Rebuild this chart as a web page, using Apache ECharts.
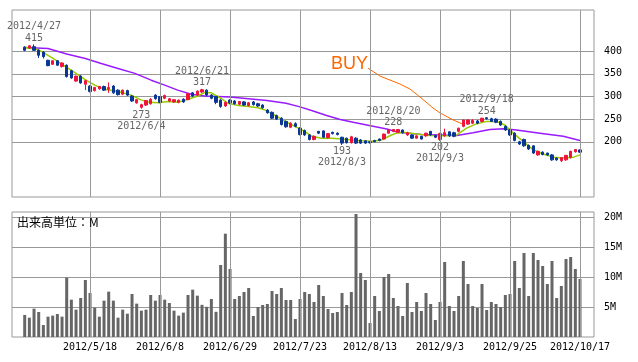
<!DOCTYPE html>
<html><head><meta charset="utf-8">
<script src="https://cdn.jsdelivr.net/npm/echarts@6/dist/echarts.min.js"></script>
<style>html,body{margin:0;padding:0;background:#fff}#c{width:638px;height:362px}</style>
</head><body><div id="c"></div>
<script>
// ---- data ----
const dates = [
'2012/4/25','2012/4/26','2012/4/27',
'2012/5/1','2012/5/2','2012/5/7','2012/5/8','2012/5/9','2012/5/10','2012/5/11','2012/5/14','2012/5/15','2012/5/16','2012/5/17','2012/5/18','2012/5/21','2012/5/22','2012/5/23','2012/5/24','2012/5/25','2012/5/28','2012/5/29','2012/5/30','2012/5/31',
'2012/6/1','2012/6/4','2012/6/5','2012/6/6','2012/6/7','2012/6/8','2012/6/11','2012/6/12','2012/6/13','2012/6/14','2012/6/15','2012/6/18','2012/6/19','2012/6/20','2012/6/21','2012/6/22','2012/6/25','2012/6/26','2012/6/27','2012/6/28','2012/6/29',
'2012/7/2','2012/7/3','2012/7/4','2012/7/5','2012/7/6','2012/7/9','2012/7/10','2012/7/11','2012/7/12','2012/7/13','2012/7/17','2012/7/18','2012/7/19','2012/7/20','2012/7/23','2012/7/24','2012/7/25','2012/7/26','2012/7/27','2012/7/30','2012/7/31',
'2012/8/1','2012/8/2','2012/8/3','2012/8/6','2012/8/7','2012/8/8','2012/8/9','2012/8/10','2012/8/13','2012/8/14','2012/8/15','2012/8/16','2012/8/17','2012/8/20','2012/8/21','2012/8/22','2012/8/23','2012/8/24','2012/8/27','2012/8/28','2012/8/29','2012/8/30','2012/8/31',
'2012/9/3','2012/9/4','2012/9/5','2012/9/6','2012/9/7','2012/9/10','2012/9/11','2012/9/12','2012/9/13','2012/9/14','2012/9/18','2012/9/19','2012/9/20','2012/9/21','2012/9/24','2012/9/25','2012/9/26','2012/9/27','2012/9/28',
'2012/10/1','2012/10/2','2012/10/3','2012/10/4','2012/10/5','2012/10/9','2012/10/10','2012/10/11','2012/10/12','2012/10/15','2012/10/16','2012/10/17'
];
// [open, close, low, high]
const ohlc = [
[409,402,400,411],[407,412,405,413],[410,402,401,415],[402,391,385,404],[398,388,384,400],
[380,368,367,381],[371,379,370,380],[379,369,368,380],[366,374,364,375],[369,344,342,371],
[357,341,339,359],[334,345,332,346],[345,330,328,347],[327,335,314,336],[323,311,309,325],
[313,320,311,321],[317,322,315,323],[322,314,312,324],[316,320,308,331],[323,308,306,325],
[314,304,302,316],[305,314,303,315],[313,303,301,315],[301,290,288,303],[286,293,284,294],
[276,282,273,284],[281,291,279,292],[284,294,282,296],[303,295,293,305],[300,287,285,301],
[296,302,294,304],[290,295,288,296],[288,293,286,294],[287,292,285,293],[294,288,286,296],
[293,306,292,307],[308,301,299,310],[303,312,301,313],[310,315,308,317],[314,303,300,316],
[303,296,294,305],[300,287,283,301],[292,278,275,294],[279,287,277,289],[292,286,283,294],
[290,284,282,292],[283,289,281,290],[288,281,279,290],[280,286,278,288],[288,282,280,290],
[284,279,277,286],[281,275,273,283],[270,264,262,272],[265,252,250,267],[258,250,248,260],
[252,238,236,254],[245,233,231,247],[232,241,230,243],[240,234,232,243],[230,216,214,232],
[225,215,213,227],[215,205,203,217],[205,212,203,214],[223,219,217,224],[224,210,208,225],
[209,218,207,219],[221,218,216,222],[219,216,214,221],[210,197,193,211],[208,198,196,209],
[198,211,196,213],[208,197,195,210],[204,197,195,206],[202,197,195,203],[200,198,196,201],
[203,200,199,204],[206,203,201,207],[206,217,205,218],[219,226,218,227],[223,227,221,228],
[221,227,220,228],[226,220,218,227],[215,220,213,222],[215,208,206,216],[208,213,207,214],
[212,206,205,213],[213,219,211,220],[223,215,213,224],[214,210,208,215],[205,218,202,220],
[213,220,211,229],[222,213,211,223],[220,212,210,222],[223,230,221,231],[234,248,232,249],
[239,248,237,250],[241,247,239,250],[246,241,239,248],[245,252,243,253],[253,251,249,254],
[251,245,244,253],[250,243,241,252],[245,237,235,247],[234,226,224,236],[226,215,213,228],
[219,203,201,221],[200,195,193,202],[205,191,189,207],[192,184,182,194],[191,175,173,192],
[171,179,169,180],[177,172,170,179],[175,171,169,176],[171,160,158,173],[164,160,158,165],
[158,165,155,166],[160,170,158,171],[165,179,163,180],[178,183,176,184],[182,177,176,183]
];
// volume in millions
const volume = [
3.67,3.22,4.72,4.17,2.0,3.39,3.56,3.83,3.39,9.89,
6.22,4.56,6.5,9.5,7.33,4.89,3.39,6.06,7.56,6.06,
3.22,4.56,3.89,7.17,5.56,4.39,4.56,7.0,6.06,7.0,
6.22,5.67,4.39,3.56,4.06,7.0,7.89,6.89,5.36,5.03,
6.33,4.2,12.0,17.22,11.33,6.33,6.83,7.5,8.17,3.5,
5.0,5.33,5.5,7.67,7.17,8.17,6.17,6.17,3.0,6.33,
7.5,7.17,5.83,8.67,6.83,4.67,4.0,4.17,7.33,5.33,
7.5,20.5,10.67,9.5,2.33,6.83,4.33,10.0,10.5,6.5,
5.17,3.5,9.0,4.17,5.83,4.33,7.33,5.5,2.83,5.83,
12.5,5.17,4.33,6.83,12.67,8.83,5.17,4.83,8.83,4.5,
5.83,5.5,5.0,7.0,7.17,12.67,8.17,14.0,6.83,14.0,
12.83,11.83,8.83,12.67,6.5,8.5,13.0,13.33,11.33,9.67
];
// moving averages: [day index, price]
const maShort = [
[0,408],[2.8,404],[4.3,395],[6.4,382],[8.6,367],[11,351],[12.9,338],[15,325],[17.1,316],[20,311],
[22.8,303],[25,292],[26.8,287],[28.6,286],[30.7,289],[32.8,287],[35,294],[37.1,301],[38.6,309],[40,308],
[42.2,295],[43.6,285],[45.8,280],[47.9,278],[50,275],[51.5,270],[53.6,259],[55.8,245],[57.9,234],[60,223],
[61.5,212],[63.6,208],[65.8,208],[67.9,206],[70.1,204],[72.2,202],[74.4,201],[76.5,204],[78.6,215],[79.7,219],
[81.1,221],[84,217],[86.8,214],[90.4,213],[92.6,215],[94.7,230],[96.9,240],[99,245],[101.1,245],[102.9,237],
[104.7,219],[106.8,201],[109,182],[111.1,173],[113.3,166],[115.4,164],[117.6,166],[119,171]
];
const maLong = [
[0,408],[5,406],[9,394],[13,384],[16.4,373],[20,362],[23.6,351],[27.1,336],[30,325],[32.8,314],
[35.7,305],[38.6,301],[44,299],[51.9,291],[56,285],[59,277],[61.8,268],[64.7,258],[67.6,249],[70.4,243],
[73.3,237],[77.6,228],[80,221],[85,216],[92.6,214],[96.1,220],[99.7,227],[102.6,229],[105.4,226],[110.4,219],
[115.4,212],[119,203]
];
const buyPath = [[73.56,362.6],[76.13,345.1],[78.27,336.3],[80.41,327.5],[82.56,316.5],[84.71,298.9],[87.49,274.7],[88.99,263.7],[91.78,248.4],[93.71,239.6]];
const annotations = [
  {i:2, v:415, side:'top'}, {i:25, v:273, side:'bottom'}, {i:38, v:317, side:'top'},
  {i:68, v:193, side:'bottom'}, {i:79, v:228, side:'top'}, {i:89, v:202, side:'bottom'},
  {i:99, v:254, side:'top'}
];
const priceTicks = [200,250,300,350,400];
const volumeTicks = [5,10,15,20];
const firstDateTick = 14, dateTickStep = 15;

// ---- chart ----
const MONO = '"DejaVu Sans Mono", monospace';
const GRID = '#999999';
const RED = '#f0143c', BLUE = '#0a3694';
const isDateTick = (idx) => idx >= firstDateTick && (idx - firstDateTick) % dateTickStep === 0;
const dateTickIdx = dates.map((d, i) => i).filter(isDateTick);
const P_MIN = 78, P_MAX = 491, V_MAX = 20.83;
const X_MIN = -2.72, X_MAX = 122;

const vLines = {
  silent:true, symbol:['none','none'], label:{show:false}, animation:false,
  lineStyle:{color:GRID, width:1, type:'solid'},
  emphasis:{disabled:true},
  data: dateTickIdx.map(i => ({xAxis: dates[i]}))
};

const chart = echarts.init(document.getElementById('c'));
chart.setOption({
  animation: false,
  backgroundColor: '#fff',
  grid: [
    {left:12, top:10, width:582, height:187, show:true, borderColor:GRID, borderWidth:1, backgroundColor:'transparent'},
    {left:24.7, top:10, width:555.3, height:187},
    {left:12, top:212, width:582, height:125, show:true, borderColor:GRID, borderWidth:1, backgroundColor:'transparent'},
    {left:24.7, top:212, width:555.3, height:125}
  ],
  xAxis: [
    {type:'value', gridIndex:0, min:X_MIN, max:X_MAX, show:false},
    {type:'category', gridIndex:1, data:dates, boundaryGap:false, show:false},
    {type:'value', gridIndex:2, min:X_MIN, max:X_MAX, show:false},
    {type:'category', gridIndex:3, data:dates, boundaryGap:false,
      axisLine:{show:false}, axisTick:{show:false, interval:isDateTick},
      axisLabel:{interval:isDateTick, color:'#000', fontFamily:MONO, fontSize:10, margin:5},
      splitLine:{show:false}}
  ],
  yAxis: [
    {type:'value', gridIndex:0, min:P_MIN, max:P_MAX, position:'right',
      axisLine:{show:false}, axisTick:{show:false, customValues:priceTicks},
      axisLabel:{customValues:priceTicks, color:'#000', fontFamily:MONO, fontSize:10, margin:10, align:'left'},
      splitLine:{show:true, lineStyle:{color:GRID, width:1}}},
    {type:'value', gridIndex:1, min:P_MIN, max:P_MAX, show:false},
    {type:'value', gridIndex:2, min:0, max:V_MAX, position:'right',
      axisLine:{show:false}, axisTick:{show:false, customValues:volumeTicks},
      axisLabel:{customValues:volumeTicks, formatter:(v)=>v+'M', color:'#000', fontFamily:MONO, fontSize:10, margin:10, align:'left'},
      splitLine:{show:true, lineStyle:{color:GRID, width:1}}},
    {type:'value', gridIndex:3, min:0, max:V_MAX, show:false}
  ],
  graphic: [
    {type:'text', x:17, y:222, z:100, style:{text:'出来高単位：M', fill:'#000', font:'12px "Noto Sans CJK JP"', verticalAlign:'middle'}},
    {type:'text', x:368, y:64, z:100, style:{text:'BUY', fill:'#ff6600', font:'18px "Liberation Sans"', align:'right', verticalAlign:'middle'}}
  ],
  series: [
    {type:'line', name:'gridlines-price', xAxisIndex:1, yAxisIndex:1, data:[], z:1, silent:true, symbol:'none', markLine:vLines},
    {type:'line', name:'gridlines-volume', xAxisIndex:3, yAxisIndex:3, data:[], z:1, silent:true, symbol:'none', markLine:vLines},
    {type:'line', xAxisIndex:0, yAxisIndex:0, data:maLong, showSymbol:false, symbol:'none', silent:true, z:2,
      lineStyle:{color:'#9a1aff', width:1.5}},
    {type:'line', xAxisIndex:0, yAxisIndex:0, data:maShort, showSymbol:false, symbol:'none', silent:true, z:2,
      lineStyle:{color:'#99cc00', width:1.5}},
    {type:'line', xAxisIndex:0, yAxisIndex:0, data:buyPath, showSymbol:false, symbol:'none', silent:true, z:2,
      lineStyle:{color:'#ff6600', width:1}},
    {type:'candlestick', xAxisIndex:1, yAxisIndex:1, data:ohlc, barWidth:3, clip:false, z:3, silent:true,
      itemStyle:{color:RED, color0:BLUE, borderColor:RED, borderColor0:BLUE, borderWidth:1},
      markPoint:{
        symbol:'rect', symbolSize:1, silent:true,
        itemStyle:{color:'rgba(0,0,0,0)'},
        label:{color:'#666', fontFamily:MONO, fontSize:10, lineHeight:11.5, distance:0},
        data: annotations.map(a => ({
          coord:[dates[a.i], a.v],
          label:{position:a.side, formatter: a.side === 'top' ? (dates[a.i] + '\n' + a.v) : (a.v + '\n' + dates[a.i])}
        }))
      }},
    {type:'bar', xAxisIndex:3, yAxisIndex:3, data:volume, barWidth:3, clip:false, silent:true, z:3,
      itemStyle:{color:'#666666'}}
  ]
});
</script></body></html>
